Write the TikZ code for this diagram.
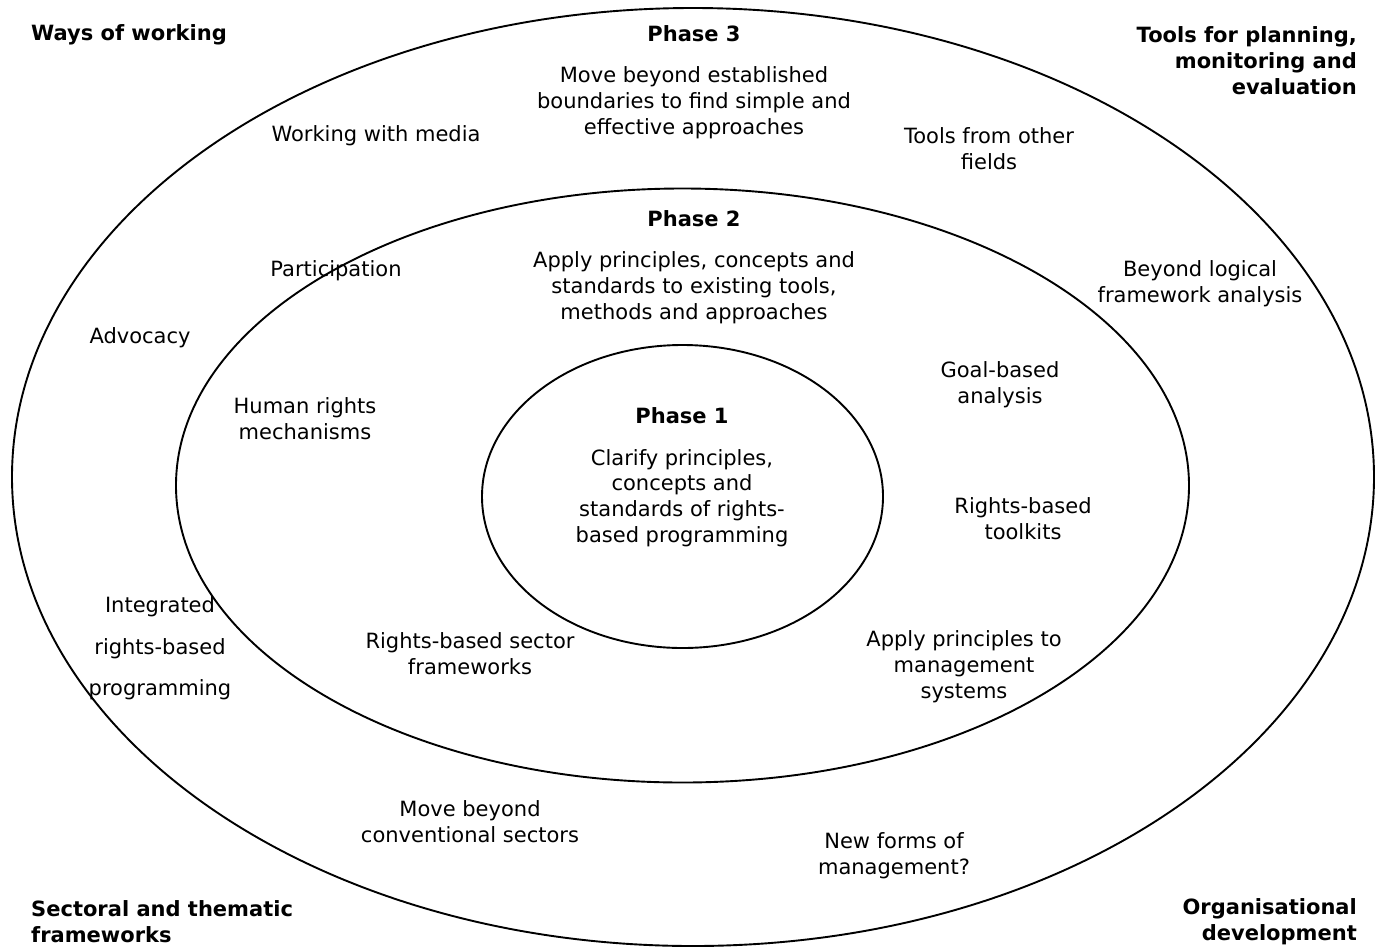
\documentclass[tikz,border=0pt]{standalone}
\usepackage{fontspec}
\setmainfont{DejaVu Sans}
\usetikzlibrary{shapes.geometric}
\tikzset{
  ring/.style={draw, ellipse, line width=1.9pt, inner sep=0pt, outer sep=0pt},
  lbl/.style={inner sep=0pt, align=center, yshift=-2.5pt, font=\fontsize{21}{25.8}\selectfont},
  head/.style={inner sep=0pt, yshift=-2pt, font=\bfseries\fontsize{21}{25.8}\selectfont},
}
\begin{document}
\begin{tikzpicture}[x=1pt,y=-1pt]
\useasboundingbox (0,0) rectangle (1376,946);
\begin{scope}
\clip (0,0) rectangle (1376,946);
\node[ring, minimum width=1362pt, minimum height=938pt] (outer) at (693,477) {};
\end{scope}
\node[ring, minimum width=1013pt, minimum height=594pt] (middle) at (682.5,485.5) {};
\node[ring, minimum width=401pt, minimum height=303pt] (inner) at (682.5,496.5) {};

% corner headings
\node[head, anchor=west] (ways) at (31,33) {Ways of working};
\node[head, anchor=east, align=right] (tools) at (1357,58.5) {Tools for planning,\\monitoring and\\evaluation};
\node[head, anchor=west, align=left] (sectoral) at (31,920) {Sectoral and thematic\\frameworks};
\node[head, anchor=east, align=right] (organ) at (1357,920) {Organisational\\development};

% phase 3
\node[head] (phase3) at (694,32) {Phase 3};
\node[lbl] (p3text) at (694,100) {Move beyond established\\boundaries to find simple and\\effective approaches};
\node[lbl] (media) at (376,133) {Working with media};
\node[lbl] (toolsother) at (989,146) {Tools from other\\fields};
\node[lbl] (advocacy) at (140,335) {Advocacy};
\node[lbl] (beyond) at (1200,281) {Beyond logical\\framework analysis};
\node[lbl, font=\fontsize{21}{41.5}\selectfont] (integrated) at (160,646) {Integrated\\rights-based\\programming};
\node[lbl] (conv) at (470,819.5) {Move beyond\\conventional sectors};
\node[lbl] (newforms) at (894,853) {New forms of\\management?};

% phase 2
\node[head] (phase2) at (694,217) {Phase 2};
\node[lbl] (p2text) at (694,285) {Apply principles, concepts and\\standards to existing tools,\\methods and approaches};
\node[lbl] (participation) at (336,268) {Participation};
\node[lbl] (goal) at (1000,382) {Goal-based\\analysis};
\node[lbl] (hrm) at (305,416) {Human rights\\mechanisms};
\node[lbl] (toolkits) at (1023,516) {Rights-based\\toolkits};
\node[lbl] (rbsf) at (470,651) {Rights-based sector\\frameworks};
\node[lbl] (apply) at (964,664) {Apply principles to\\management\\systems};

% phase 1
\node[head] (phase1) at (682,414) {Phase 1};
\node[lbl] (p1text) at (682,495.5) {Clarify principles,\\concepts and\\standards of rights-\\based programming};
\end{tikzpicture}
\end{document}
